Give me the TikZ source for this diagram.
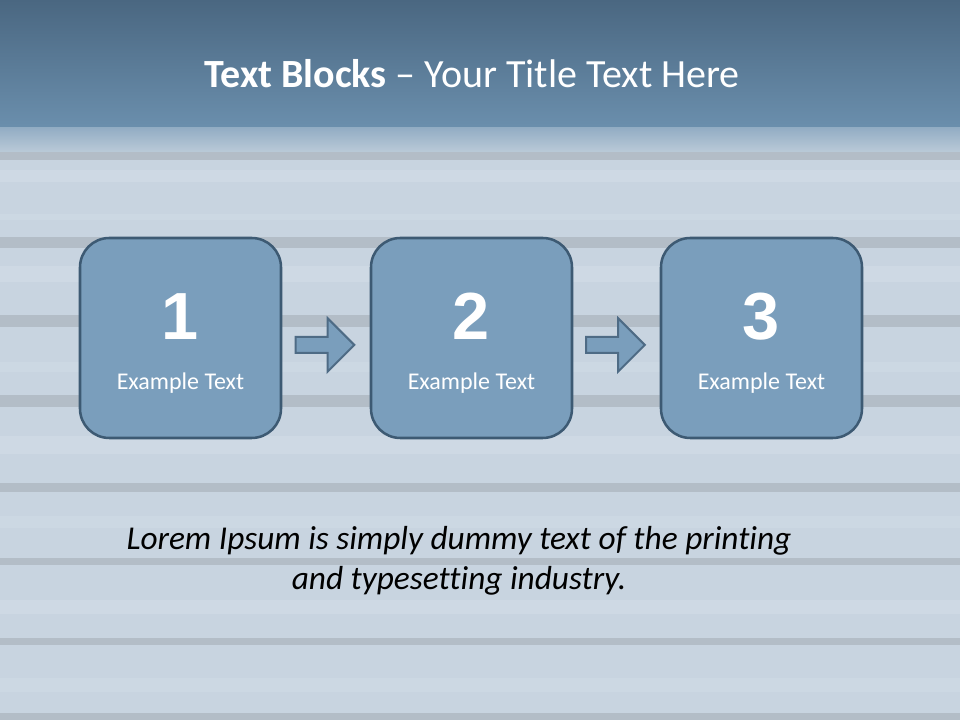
\documentclass[tikz,border=0pt]{standalone}
\usepackage{fontspec}
\setmainfont{Carlito}[Ligatures=NoCommon]
\newfontfamily\numfont{Liberation Sans}
\usetikzlibrary{positioning, shapes.arrows, calc}
\definecolor{skytop}{HTML}{4A6781}
\definecolor{skybot}{HTML}{6A8EAC}
\definecolor{haze}{HTML}{93ADC4}
\definecolor{hazelow}{HTML}{BACAD8}
\definecolor{wood}{HTML}{C8D4E0}
\definecolor{woodlite}{HTML}{D8E2EB}
\definecolor{woodgap}{HTML}{B3BDC7}
\definecolor{boxfill}{HTML}{7A9EBC}
\definecolor{boxline}{HTML}{3D5A73}
\definecolor{arrline}{HTML}{4E6B85}

\begin{document}
\begin{tikzpicture}[x=0.75pt, y=0.75pt,
    b/.style={draw=boxline, fill=boxfill, line width=1.9pt, rounded corners=22pt, minimum width=150.75pt, minimum height=150pt, inner sep=0pt},
    num/.style={text=white, font=\numfont\bfseries\fontsize{50}{50}\selectfont, anchor=base, inner sep=0pt},
    lbl/.style={text=white, font=\fontsize{18}{22}\selectfont, anchor=base, inner sep=0pt},
    arr/.style={single arrow, draw=arrline, fill=boxfill, line width=1.5pt, minimum height=44pt, single arrow head extend=14pt, inner xsep=0pt, inner ysep=5.25pt}]
  \useasboundingbox (0,0) rectangle (960,720);
  % wood planks
  \fill[wood] (0,0) rectangle (960,720);
  \fill[woodlite, opacity=0.4] (0,538) rectangle (960,550);
  \fill[woodlite, opacity=0.3] (0,500) rectangle (960,506);
  \fill[woodlite, opacity=0.4] (0,438) rectangle (960,454);
  \fill[woodlite, opacity=0.3] (0,348) rectangle (960,358);
  \fill[woodlite, opacity=0.4] (0,266) rectangle (960,284);
  \fill[woodlite, opacity=0.3] (0,192) rectangle (960,204);
  \fill[woodlite, opacity=0.4] (0,106) rectangle (960,120);
  \fill[woodlite, opacity=0.3] (0,28) rectangle (960,42);
  \fill[woodgap] (0,560) rectangle (960,568);
  \fill[woodgap] (0,472) rectangle (960,483);
  \fill[woodgap] (0,393) rectangle (960,405);
  \fill[woodgap] (0,313) rectangle (960,325);
  \fill[woodgap] (0,228) rectangle (960,237);
  \fill[woodgap] (0,155) rectangle (960,162);
  \fill[woodgap] (0,75) rectangle (960,82);
  \fill[woodgap] (0,0) rectangle (960,7);
  % title band
  \shade[top color=skytop, bottom color=skybot] (0,595) rectangle (960,720);
  \fill[skybot] (0,592) rectangle (960,596);
  \shade[top color=haze, bottom color=hazelow] (0,568) rectangle (960,592);

  \node[text=white, font=\fontsize{30}{36}\selectfont, anchor=base, inner sep=0pt] (title) at (472,632)
    {\textbf{Text Blocks} -- Your Title Text Here};

  \node[b] (b1) at (180.5,382) {};
  \node[b] (b2) at (471.5,382) {};
  \node[b] (b3) at (761.5,382) {};

  \node[num] (n1) at ($(b1.center)+(0,-2)$) {1};
  \node[num] (n2) at ($(b2.center)+(0,-2)$) {2};
  \node[num] (n3) at ($(b3.center)+(0,-2)$) {3};
  \node[lbl] (t1) at ($(b1.center)+(0,-52)$) {Example Text};
  \node[lbl] (t2) at ($(b2.center)+(0,-52)$) {Example Text};
  \node[lbl] (t3) at ($(b3.center)+(0,-52)$) {Example Text};

  \node[arr] (a1) at ($(b1.east)!0.5!(b2.west)+(-5,-7)$) {};
  \node[arr] (a2) at ($(b2.east)!0.5!(b3.west)+(-5,-7)$) {};

  \node[align=center, font=\itshape\fontsize{25}{30}\selectfont, inner sep=0pt] (lorem) at (459,159)
    {Lorem Ipsum is simply dummy text of the printing\\and typesetting industry.};
\end{tikzpicture}
\end{document}
